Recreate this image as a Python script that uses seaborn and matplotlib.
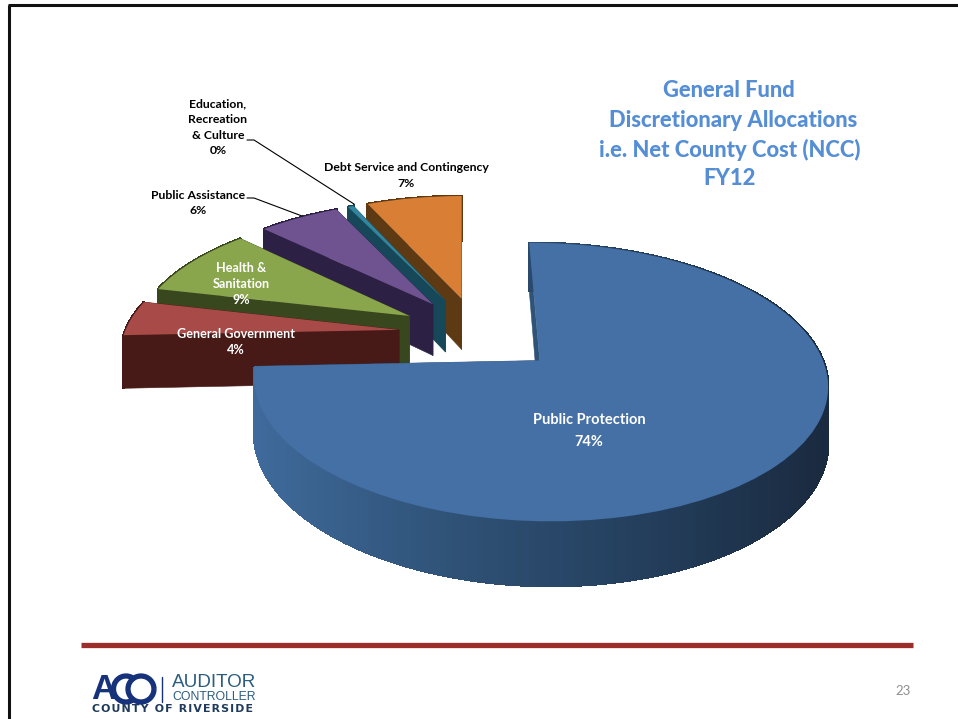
import numpy as np
import matplotlib
matplotlib.use("Agg")
import matplotlib.pyplot as plt
from matplotlib.patches import Polygon, Arc
from matplotlib.transforms import Transform
import seaborn as sns

categories = ["Public Protection", "General Government", "Health &\nSanitation",
              "Public Assistance", "Education,\nRecreation\n& Culture",
              "Debt Service and Contingency"]
shares = [74.4, 4.3, 8.6, 5.6, 0.4, 6.6]
top_colors = ["#4570A6", "#A84A48", "#8AA64C", "#6F5390", "#31859C", "#D87F35"]
wall_colors = ["#2F5277", "#471A17", "#39471F", "#2C2044", "#17485A", "#5D3A14"]
title_lines = ["General Fund", "Discretionary Allocations",
               "i.e. Net County Cost (NCC)", "FY12"]

sns.set_theme(style="white")
plt.rcParams["font.family"] = ["Lato", "DejaVu Sans"]

# Perspective of the pie plane, in pixels
CX, CY, AX_X, AX_Y, TILT, DEPTH = 478.0, 333.3, 274.6, 127.6, 0.15, 53.0


def project(X, Y, z=0.0):
    X, Y = np.asarray(X, float), np.asarray(Y, float)
    w = 1 + TILT * Y
    return CX + AX_X * X / w, CY - AX_Y * Y / w + z / w


class PlanePerspective(Transform):
    input_dims = output_dims = 2
    is_separable = False
    has_inverse = False

    def transform_non_affine(self, values):
        values = np.asarray(values, float)
        return np.column_stack(project(values[:, 0], values[:, 1]))


fig = plt.figure(figsize=(9.58, 7.19), dpi=100, facecolor="white")
ax = fig.add_axes([0, 0, 1, 1])

wedges, _ = ax.pie(shares, explode=[0.30, 0.29, 0.29, 0.29, 0.29, 0.29], startangle=90.5,
                   counterclock=False, colors=top_colors,
                   wedgeprops=dict(linewidth=0))
ax.set_aspect("auto")
ax.set_xlim(0, 958)
ax.set_ylim(719, 0)
ax.axis("off")

plane = PlanePerspective() + ax.transData
rim_gradient = sns.blend_palette(["#3F6A9B", "#2F5277", "#243F5D", "#1A2A3F"], 200)

# Slices are stacked back to front: Debt Service first, Public Protection last
paint_order = [5, 4, 3, 2, 1, 0]
for rank, idx in enumerate(paint_order):
    wedge = wedges[idx]
    base = 2 + rank
    wedge.set_transform(plane)
    wedge.set_zorder(base + 0.5)
    wedge.set_clip_on(False)

    ox, oy = wedge.center
    r = wedge.r
    t = np.radians(np.linspace(wedge.theta1, wedge.theta2, 240))
    rx, ry = ox + r * np.cos(t), oy + r * np.sin(t)

    # Flat side faces along both straight edges
    for k in (0, -1):
        xs, ys = np.array([ox, rx[k]]), np.array([oy, ry[k]])
        x0, y0 = project(xs, ys)
        x1, y1 = project(xs, ys, DEPTH)
        ax.add_patch(Polygon(np.c_[np.r_[x0, x1[::-1]], np.r_[y0, y1[::-1]]],
                             closed=True, fc=wall_colors[idx], ec=wall_colors[idx],
                             lw=0.4, zorder=base))

    # Outer rim, shaded left to right on the largest slice
    x0, y0 = project(rx, ry)
    x1, y1 = project(rx, ry, DEPTH)
    for j in range(len(t) - 1):
        if idx == 0:
            pos = np.clip((x0[j] - 254) / (827 - 254), 0, 1)
            col = rim_gradient[int(pos * 199)]
        else:
            col = wall_colors[idx]
        quad = [(x0[j], y0[j]), (x0[j + 1], y0[j + 1]),
                (x1[j + 1], y1[j + 1]), (x1[j], y1[j])]
        ax.add_patch(Polygon(quad, closed=True, fc=col, ec=col, lw=1.2,
                             antialiased=False, zorder=base))

# Slide furniture
ax.plot([9.5, 9.5], [5, 719], color="#111111", lw=2.2, solid_capstyle="butt")
ax.plot([8.5, 958], [5, 5], color="#111111", lw=2.2, solid_capstyle="butt")
ax.plot([81, 913], [644.5, 644.5], color="#9B2D2A", lw=3.8, solid_capstyle="butt")

# Heading
title_y = [90.5, 120.5, 149.5, 178.5]
title_x = [729, 733, 730, 730]
for line, x, y in zip(title_lines, title_x, title_y):
    ax.text(x, y, line, color="#558ED5", fontsize=15.8, fontweight=900,
            ha="center", va="center", zorder=20)

# Slice labels
label_pos = [(589, 431), (236, 342), (241, 284), (198, 203), (218, 127.5), (406, 175.5)]
label_col = ["white", "white", "white", "black", "black", "black"]
label_size = [10.5, 9.05, 9.05, 8.85, 8.85, 8.85]
label_gap = [1.7, 1.5, 1.45, 1.5, 1.5, 1.5]
for name, val, (x, y), col, size, gap in zip(categories, shares, label_pos, label_col,
                                             label_size, label_gap):
    ax.text(x, y, f"{name}\n{val:.0f}%", color=col, fontsize=size, fontweight="bold",
            ha="center", va="center", linespacing=gap, zorder=20)

# Leader lines
ax.plot([247, 254, 354], [140, 140, 204], color="black", lw=0.8, zorder=19)
ax.plot([247, 254, 302], [198, 198, 216], color="black", lw=0.8, zorder=19)

# Page number
ax.text(903, 691, "23", color="#8F8F8F", fontsize=9.5, ha="center", va="center", zorder=20)

# Logo lockup
navy = "#16327A"
teal = "#2D5D7E"
ax.text(91, 689.5, "A", color=navy, fontsize=25, fontweight="bold", ha="left",
        va="center", family="Liberation Sans", zorder=20)
ax.add_patch(Arc((126, 689), 25, 26, theta1=45, theta2=315, color=navy, lw=3.8, zorder=20))
ax.add_patch(Arc((141, 689), 26, 26, color=navy, lw=3.8, zorder=20))
ax.plot([162, 162], [677, 702], color=navy, lw=1.0, zorder=20)
ax.text(172, 682.5, "AUDITOR", color=teal, fontsize=13.6, ha="left", va="center",
        family="Liberation Sans", zorder=20)
ax.text(172, 696.5, "CONTROLLER", color=teal, fontsize=8.8, ha="left", va="center",
        family="Liberation Sans", zorder=20)
ax.text(173, 708.5, "\u200a".join("COUNTY OF RIVERSIDE"), color="#1F3A5A", fontsize=7.9,
        fontweight="bold", ha="center", va="center", family="DejaVu Sans", zorder=20)

fig.savefig("out.png", dpi=100, facecolor="white")
